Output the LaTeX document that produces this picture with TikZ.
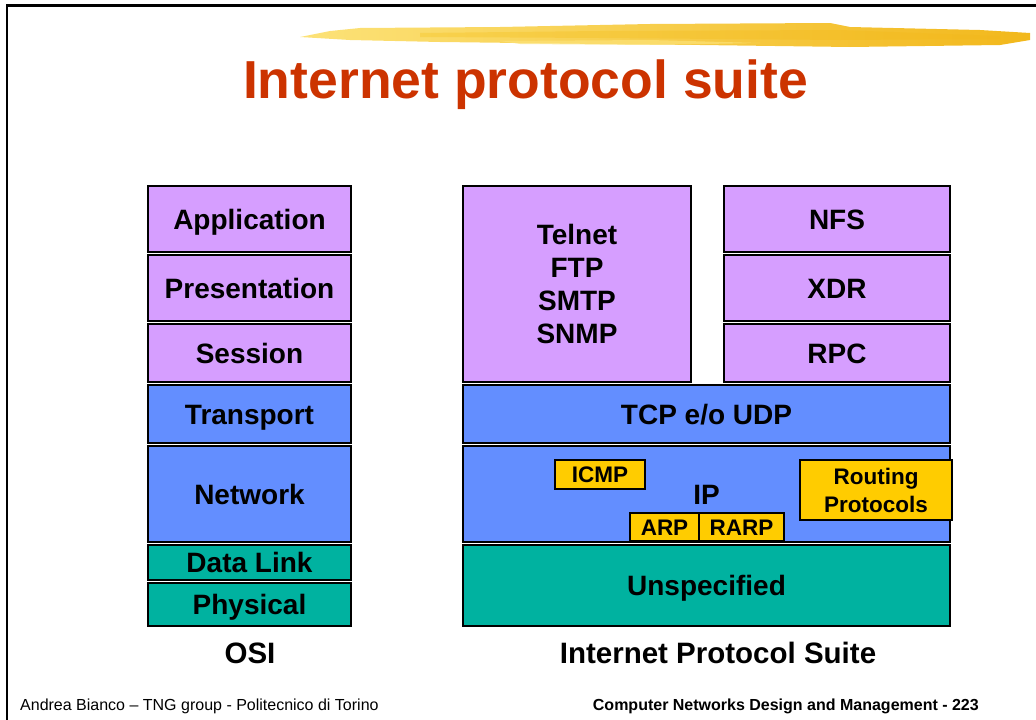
\documentclass[tikz,border=0pt]{standalone}
\usepackage{fontspec}
\setmainfont{Liberation Sans}
\usetikzlibrary{positioning}

\definecolor{layerviolet}{RGB}{214,158,255}
\definecolor{layerblue}{RGB}{99,142,255}
\definecolor{layerteal}{RGB}{0,178,160}
\definecolor{protoyellow}{RGB}{255,204,0}
\definecolor{titlered}{RGB}{204,51,0}
\definecolor{brushlight}{RGB}{252,226,120}
\definecolor{brushmid}{RGB}{248,204,60}
\definecolor{brushdark}{RGB}{242,184,28}

\begin{document}
\begin{tikzpicture}[x=1pt, y=-1pt,
        % Standard style for the layer boxes of both stacks
        layer/.style={draw, line width=2pt, inner sep=0pt, outer sep=0pt,
        font=\fontsize{28}{33}\selectfont\bfseries, align=center},
        % One line of text, centred on its capitals
        oneline/.style={text height=#1, text depth=0pt},
        oneline/.default=20pt,
        % Style for the small protocol boxes inside the IP layer
        proto/.style={draw, line width=1.2pt, fill=protoyellow, inner sep=0pt,
        outer sep=0pt, font=\fontsize{22.5}{28}\selectfont\bfseries, align=center},
        % Style for the captions under the stacks
        caption/.style={font=\fontsize{29.5}{34}\selectfont\bfseries},
        footer/.style={inner sep=0pt, font=\fontsize{16}{19}\selectfont}
    ]
    \useasboundingbox (0,0) rectangle (1036,720);

    % --- Slide frame and brush stroke ---
    \draw[line width=2.5pt] (7,720) -- (7,5.3) -- (1036,5.3);
    \shade[left color=brushlight, right color=brushdark]
        (300,37) -- (330,31) -- (360,28) -- (500,27) -- (650,24) -- (830,23)
        -- (850,27) -- (980,30) -- (1030,33) -- (1030,40) -- (1000,45)
        -- (850,47) -- (700,45) -- (600,44) -- (440,42) -- (350,40) -- cycle;
    \shade[left color=brushmid, right color=brushdark, opacity=.6]
        (420,33) -- (600,31) -- (840,30) -- (1000,36) -- (1000,39)
        -- (840,40) -- (600,38) -- (420,37) -- cycle;
    \fill[brushlight, opacity=.7] (500,41) -- (650,40) -- (760,43) -- (650,45) -- (520,44) -- cycle;

    \node[anchor=base, text=titlered, font=\fontsize{53.5}{60}\selectfont\bfseries]
        (title) at (525.5,98) {Internet protocol suite};

    % --- OSI stack ---
    % 1. Upper layers
    \node[layer, oneline, fill=layerviolet, minimum width=203, minimum height=66, anchor=north]
        (osi_app) at (249.5,186) {Application};
    \node[layer, oneline, fill=layerviolet, minimum width=203, minimum height=66, anchor=north, yshift=-3]
        (osi_pres) at (osi_app.south) {Presentation};
    \node[layer, oneline, fill=layerviolet, minimum width=203, minimum height=58, anchor=north, yshift=-3]
        (osi_sess) at (osi_pres.south) {Session};

    % 2. Transport and network
    \node[layer, oneline, fill=layerblue, minimum width=203, minimum height=58, anchor=north, yshift=-3]
        (osi_trans) at (osi_sess.south) {Transport};
    \node[layer, oneline, fill=layerblue, minimum width=203, minimum height=96, anchor=north, yshift=-3]
        (osi_net) at (osi_trans.south) {Network};

    % 3. Lower layers
    \node[layer, oneline, fill=layerteal, minimum width=203, minimum height=35, anchor=north, yshift=-3]
        (osi_link) at (osi_net.south) {Data Link};
    \node[layer, oneline, fill=layerteal, minimum width=203, minimum height=43, anchor=north, yshift=-3]
        (osi_phys) at (osi_link.south) {Physical};
    \node[caption, anchor=base] (osi_caption) at (250,663) {OSI};

    % --- Internet protocol suite ---
    % 1. Applications
    \node[layer, fill=layerviolet, minimum width=228, minimum height=196, anchor=north west]
        (ips_apps) at (463,186) {Telnet\\FTP\\SMTP\\SNMP};
    \node[layer, oneline, fill=layerviolet, minimum width=226, minimum height=66, anchor=north west]
        (ips_nfs) at (724,186) {NFS};
    \node[layer, oneline, fill=layerviolet, minimum width=226, minimum height=66, anchor=north, yshift=-3]
        (ips_xdr) at (ips_nfs.south) {XDR};
    \node[layer, oneline, fill=layerviolet, minimum width=226, minimum height=58, anchor=north, yshift=-3]
        (ips_rpc) at (ips_xdr.south) {RPC};

    % 2. Transport and IP
    \node[layer, oneline, fill=layerblue, minimum width=487, minimum height=58, anchor=north west, yshift=-3]
        (ips_tcp) at (ips_apps.south west) {TCP e/o UDP};
    \node[layer, oneline, fill=layerblue, minimum width=487, minimum height=96, anchor=north west, yshift=-3]
        (ips_ip) at (ips_tcp.south west) {IP};

    % 3. Protocols next to IP
    \node[proto, oneline=16pt, minimum width=90, minimum height=29] (icmp) at (600,474.5) {ICMP};
    \node[proto, oneline=16pt, minimum width=69, minimum height=28, anchor=south west] (arp) at (630,541) {ARP};
    \node[proto, oneline=16pt, minimum width=85, minimum height=28, anchor=west] (rarp) at (arp.east) {RARP};
    \node[proto, minimum width=152, minimum height=60, anchor=north east]
        (routing) at (952,460) {Routing\\Protocols};

    % 4. Below IP
    \node[layer, oneline, fill=layerteal, minimum width=487, minimum height=81, anchor=north west, yshift=-3]
        (ips_unspec) at (ips_ip.south west) {Unspecified};
    \node[caption, anchor=base] (ips_caption) at (718,663) {Internet Protocol Suite};

    % --- Footer ---
    \node[footer, anchor=base west] (author) at (20,710) {Andrea Bianco – TNG group - Politecnico di Torino};
    \node[footer, anchor=base east, font=\fontsize{16}{19}\selectfont\bfseries]
        (course) at (979,710) {Computer Networks Design and Management - 223};

\end{tikzpicture}
\end{document}
